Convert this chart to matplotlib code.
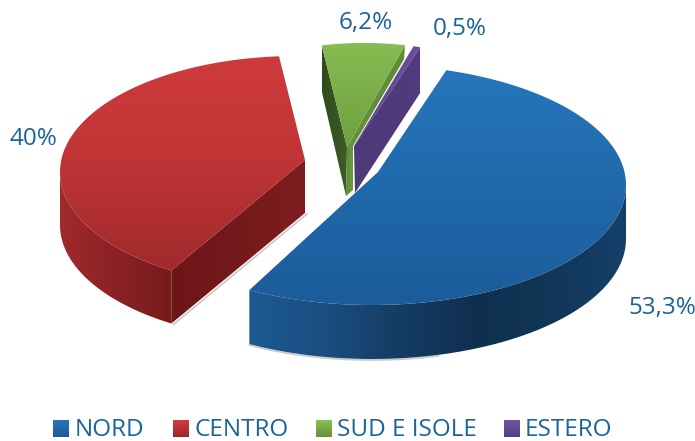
import numpy as np
import matplotlib
matplotlib.use('Agg')
import matplotlib.pyplot as plt
from matplotlib.colors import LinearSegmentedColormap
from matplotlib.patches import Polygon

categories = ['NORD', 'CENTRO', 'SUD E ISOLE', 'ESTERO']
values = [53.3, 40, 6.2, 0.5]
pct_labels = ['53,3%', '40%', '6,2%', '0,5%']

TXT = '#1a6499'
plt.rcParams['font.family'] = ['Open Sans', 'DejaVu Sans']

fig = plt.figure(figsize=(6.95, 4.41), dpi=100)
ax = fig.add_axes([0, 0, 1, 1])


def grad(pts, colors, horizontal=False, z=1):
    # poligono riempito con un gradiente lineare
    pts = np.array(pts)
    x0, y0 = pts.min(axis=0)
    x1, y1 = pts.max(axis=0)
    cmap = LinearSegmentedColormap.from_list('g', colors)
    g = np.linspace(0, 1, 256)
    g = g.reshape(1, -1) if horizontal else g.reshape(-1, 1)
    im = ax.imshow(g, cmap=cmap, extent=(x0, x1, y1, y0), origin='upper',
                   aspect='auto', zorder=z, interpolation='bilinear')
    p = Polygon(pts, closed=True, transform=ax.transData, fc='none', ec='none')
    ax.add_patch(p)
    im.set_clip_path(p)


def arc(a0, a1, s, n=120):
    t = np.radians(np.linspace(a0, a1, n))
    return np.column_stack([s['cx'] + s['rx'] * np.cos(t), s['cy'] - s['ry'] * np.sin(t)])


def down(pts, d):
    return np.array(pts) + [0, d]


# ogni fetta ha il proprio centro per simulare esplosione e prospettiva
shape = {
    'NORD': dict(cx=372, cy=185, rx=254, ry=120, off=0, apex=(378, 172), d=54),
    'CENTRO': dict(cx=296, cy=172, rx=236, ry=116, off=-3, apex=(305, 160), d=53),
    'SUD E ISOLE': dict(cx=364, cy=164, rx=215, ry=121, off=4.2, apex=(347, 147), d=48),
    'ESTERO': dict(cx=364, cy=164, rx=215, ry=121, off=1.9, apex=(354, 146), d=46),
}
top_col = {
    'NORD': ['#2676ba', '#2069ab', '#1c5c9a'],
    'CENTRO': ['#cf3b3c', '#bf3436', '#a02a2c'],
    'SUD E ISOLE': ['#86bc52', '#6f9f40'],
    'ESTERO': ['#6a4f9a', '#5a4389'],
}

angles = {}
a = 73.0
for c, v in zip(categories, values):
    s = shape[c]
    angles[c] = (a + s['off'], a + s['off'] - v * 3.6)
    a -= v * 3.6


def shadow(pts, z):
    # ombra sottile sotto i bordi
    ax.plot(*np.array(pts).T, color='#a8a8a8', lw=1.3, alpha=0.6, zorder=z, solid_capstyle='round')


# CENTRO: l'arco va dal basso (a0) verso l'alto (a1)
s = shape['CENTRO']
a0, a1 = angles['CENTRO']
rim = arc(a0, a1, s)
low = arc(-180, a0, s, 60)
ap = np.array(s['apex'])
shadow([rim[0] + [2, s['d'] + 1], ap + [2, s['d'] + 1]], 0.5)
grad(np.vstack([low, down(low, s['d'])[::-1]]), ['#a02a2c', '#8a2224', '#771a1c'], True, 1)
grad([rim[0], ap, down([ap], s['d'])[0], down([rim[0]], s['d'])[0]],
     ['#6d1517', '#751a1c', '#7e1d1f'], True, 1)
grad(np.vstack([rim, ap]), top_col['CENTRO'], False, 2)

# SUD E ISOLE: l'arco va da sinistra (a0) a destra (a1)
s = shape['SUD E ISOLE']
a0, a1 = angles['SUD E ISOLE']
rim = arc(a0, a1, s, 30)
ap = np.array(s['apex'])
grad([rim[0], ap, ap + [-1, s['d'] + 1], rim[0] + [0, 46]], ['#2f4a1c', '#3d5e25'], True, 3)
grad([ap, ap + [6, -3], ap + [6, 43], ap + [-1, s['d'] + 1]], ['#5f8a38', '#6c9a40'], True, 3)
grad([rim[-1], rim[-1] + [-1, 14], ap + [6, -1], ap], ['#5f8a38', '#678f3c'], False, 3)
grad(np.vstack([rim, ap]), top_col['SUD E ISOLE'], False, 4)

# ESTERO
s = shape['ESTERO']
a0, a1 = angles['ESTERO']
rim = arc(a0, a1, s, 8)
ap = np.array(s['apex'])
grad([rim[-1], down([rim[-1]], s['d'])[0], ap + [1, s['d'] + 1], ap], ['#4e3a78', '#503c7e'], True, 5)
grad(np.vstack([rim, ap]), top_col['ESTERO'], False, 6)

# NORD
s = shape['NORD']
a0, a1 = angles['NORD']
rim = arc(a0, a1, s, 240)
low = arc(0, a1, s, 160)
shadow(down(low, s['d'] + 1)[100:], 6.5)
grad(np.vstack([low, down(low, s['d'])[::-1]]),
     ['#1d5a92', '#1a4e80', '#153c63', '#0f2f50', '#113656', '#15406a'], True, 7)
grad(np.vstack([rim, s['apex']]), top_col['NORD'], False, 8)

# etichette percentuali
label_pos = [(628, 314), (9, 145), (339, 29), (433, 35)]
for t, (x, y) in zip(pct_labels, label_pos):
    ax.text(x, y, t, color=TXT, fontsize=17.5, ha='left', va='baseline', zorder=10)

# legenda
leg_sq = [53, 173, 316, 504]
leg_txt = [75, 194, 337, 525]
leg_col = [['#2874bb', '#1d5c9a'], ['#d23c3d', '#9a2729'], ['#8ac056', '#668f3a'], ['#6f55a0', '#56407f']]
for c, sx, tx, col in zip(categories, leg_sq, leg_txt, leg_col):
    grad([(sx, 420), (sx + 16, 420), (sx + 16, 437), (sx, 437)], col, False, 9)
    ax.text(tx, 436, c, color=TXT, fontsize=17.5, ha='left', va='baseline', zorder=10)

ax.set_xlim(0, 695)
ax.set_ylim(441, 0)
ax.axis('off')
fig.savefig('out.png', dpi=100)
